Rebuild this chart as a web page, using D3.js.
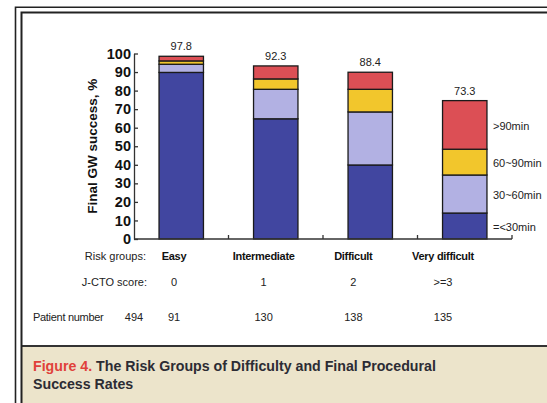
<!DOCTYPE html>
<html><head><meta charset="utf-8">
<script src="https://cdn.jsdelivr.net/npm/d3@7"></script>
<style>html,body{margin:0;padding:0;background:#fff;}svg{display:block;}</style>
</head><body>
<svg id="chart" width="547" height="403"></svg>
<script>
// ---- data ----
const groups = ["Easy", "Intermediate", "Difficult", "Very difficult"];
const jctoScores = ["0", "1", "2", ">=3"];
const patientNumbers = ["91", "130", "138", "135"];
const patientTotal = "494";
const successLabels = ["97.8", "92.3", "88.4", "73.3"];
const timeSeries = ["=<30min", "30~60min", "60~90min", ">90min"];
const le30 = [89.8, 64.8, 39.9, 14.0];
const t30to60 = [4.4, 15.9, 28.6, 20.5];
const t60to90 = [1.8, 5.6, 12.2, 13.9];
const gt90 = [2.5, 7.0, 9.2, 26.2];
const yTicks = [0, 10, 20, 30, 40, 50, 60, 70, 80, 90, 100];

const seriesValues = [le30, t30to60, t60to90, gt90];
const colors = ["#4146a0", "#b2b1e3", "#f2c62c", "#dc4f55"];

const svg = d3.select("#chart");
const font = "Arial, 'Liberation Sans', Helvetica, sans-serif";

// ---- frame ----
svg.append("rect").attr("x", 22).attr("y", 346).attr("width", 525).attr("height", 57).attr("fill", "#ece4cb");
svg.append("line").attr("x1", 21).attr("x2", 547).attr("y1", 346).attr("y2", 346).attr("stroke", "#333").attr("stroke-width", 2);
svg.append("path").attr("d", "M15.5,403V7.2H547").attr("fill", "none").attr("stroke", "#222").attr("stroke-width", 1.6);
svg.append("path").attr("d", "M21.5,403V12.5H547").attr("fill", "none").attr("stroke", "#222").attr("stroke-width", 2);

// ---- scales ----
const x = d3.scaleBand().domain(groups).range([134, 512]).paddingInner(0.53).paddingOuter(0.265);
const y = d3.scaleLinear().domain([0, 100]).range([239, 53.5]);

const table = groups.map((g, i) => {
  const row = { group: g };
  timeSeries.forEach((s, k) => row[s] = seriesValues[k][i]);
  return row;
});
const stacked = d3.stack().keys(timeSeries)(table);

const g = svg.append("g");
stacked.forEach((layer, k) => {
  g.selectAll(null).data(layer).enter().append("rect")
    .attr("x", d => x(d.data.group))
    .attr("width", x.bandwidth())
    .attr("y", d => y(d[1]))
    .attr("height", d => y(d[0]) - y(d[1]))
    .attr("fill", colors[k])
    .attr("stroke", "#1a1a1a")
    .attr("stroke-width", 1.3);
});

// value labels
const tops = groups.map((gr, i) => stacked[stacked.length - 1][i][1]);
g.selectAll(null).data(groups).enter().append("text")
  .attr("x", d => x(d) + x.bandwidth() / 2)
  .attr("y", (d, i) => y(tops[i]) - 6)
  .attr("text-anchor", "middle")
  .attr("font-family", font).attr("font-size", 11).attr("fill", "#222")
  .text((d, i) => successLabels[i]);

// legend labels beside last bar
const last = groups.length - 1;
g.selectAll(null).data(stacked).enter().append("text")
  .attr("x", x(groups[last]) + x.bandwidth() + 6)
  .attr("y", d => (y(d[last][0]) + y(d[last][1])) / 2 + 5)
  .attr("font-family", font).attr("font-size", 11).attr("fill", "#222")
  .text(d => d.key);

// ---- axes ----
const yAxis = d3.axisLeft(y).tickValues(yTicks).tickSize(-4).tickSizeOuter(0).tickPadding(3);
const ya = svg.append("g").attr("transform", "translate(134,0)").call(yAxis);
ya.select(".domain").attr("stroke", "#333").attr("stroke-width", 1.3);
ya.selectAll(".tick line").attr("stroke", "#333").attr("stroke-width", 1.3);
ya.selectAll(".tick text").attr("font-family", font).attr("font-size", 14.5).attr("font-weight", "bold").attr("fill", "#111");

// x axis: baseline with upward ticks at band boundaries
const xr = x.range();
svg.append("line").attr("x1", xr[0]).attr("x2", xr[1]).attr("y1", y(0)).attr("y2", y(0)).attr("stroke", "#333").attr("stroke-width", 1.3);
const bounds = groups.map((d, i) => xr[0] + (i + 1) * x.step());
svg.selectAll(null).data(bounds).enter().append("line")
  .attr("x1", d => d).attr("x2", d => d).attr("y1", y(0)).attr("y2", y(0) - 4)
  .attr("stroke", "#333").attr("stroke-width", 1.3);

// y title
svg.append("text")
  .attr("transform", `translate(97,${(y(0) + y(100)) / 2}) rotate(-90)`)
  .attr("text-anchor", "middle")
  .attr("font-family", font).attr("font-size", 13.5).attr("font-weight", "bold").attr("fill", "#111")
  .text("Final GW success, %");

// ---- table below ----
const tx = d3.scalePoint().domain(groups).range([174, 443]);
svg.append("text").attr("x", 146).attr("y", 260).attr("text-anchor", "end")
  .attr("font-family", font).attr("font-size", 11).attr("fill", "#222").text("Risk groups:");
svg.selectAll(null).data(groups).enter().append("text")
  .attr("x", d => tx(d)).attr("y", 260).attr("text-anchor", "middle")
  .attr("font-family", font).attr("font-size", 11).attr("font-weight", "bold").attr("fill", "#111")
  .attr("letter-spacing", -0.3)
  .text(d => d);
svg.append("text").attr("x", 147).attr("y", 285.5).attr("text-anchor", "end")
  .attr("font-family", font).attr("font-size", 11).attr("fill", "#222").text("J-CTO score:");
svg.selectAll(null).data(groups).enter().append("text")
  .attr("x", d => tx(d)).attr("y", 285.5).attr("text-anchor", "middle")
  .attr("font-family", font).attr("font-size", 11).attr("fill", "#222")
  .text((d, i) => jctoScores[i]);
svg.append("text").attr("x", 33).attr("y", 321)
  .attr("font-family", font).attr("font-size", 11).attr("fill", "#222").attr("letter-spacing", -0.3).text("Patient number");
svg.append("text").attr("x", 134).attr("y", 321).attr("text-anchor", "middle")
  .attr("font-family", font).attr("font-size", 11).attr("fill", "#222").text(patientTotal);
svg.selectAll(null).data(groups).enter().append("text")
  .attr("x", d => tx(d)).attr("y", 321).attr("text-anchor", "middle")
  .attr("font-family", font).attr("font-size", 11).attr("fill", "#222")
  .text((d, i) => patientNumbers[i]);

// ---- caption ----
const cap1 = svg.append("text").attr("x", 33).attr("y", 371)
  .attr("font-family", font).attr("font-size", 14.5).attr("font-weight", "bold");
cap1.append("tspan").attr("fill", "#e0413a").text("Figure 4. ");
cap1.append("tspan").attr("fill", "#2c2c34").text("The Risk Groups of Difficulty and Final Procedural");
const cap2 = svg.append("text").attr("x", 33).attr("y", 389)
  .attr("font-family", font).attr("font-size", 14.5).attr("font-weight", "bold").attr("fill", "#2c2c34")
  .text("Success Rates");
// fit caption width to reference line length
const w = cap1.node().getComputedTextLength();
const fs = 14.5 * 403 / w;
cap1.attr("font-size", fs);
cap2.attr("font-size", fs);
</script>
</body></html>
